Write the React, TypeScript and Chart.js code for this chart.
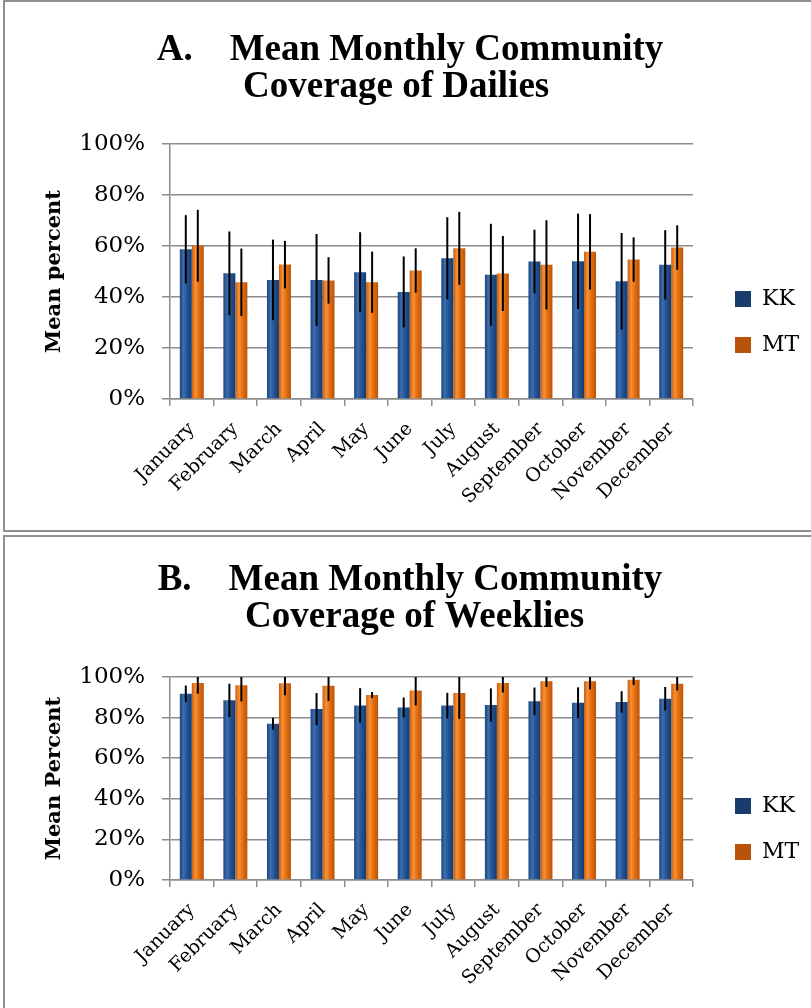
import React, { useEffect, useRef } from 'react';
import { Chart, registerables } from 'chart.js';

Chart.register(...registerables);

// ---------- data ----------
const months = [
  'January', 'February', 'March', 'April', 'May', 'June',
  'July', 'August', 'September', 'October', 'November', 'December',
];
const seriesNames = ['KK', 'MT'];
const yTickLabels = ['0%', '20%', '40%', '60%', '80%', '100%'];

const titleA = ['A.    Mean Monthly Community', 'Coverage of Dailies   '];
const titleB = ['B.    Mean Monthly Community', ' Coverage of Weeklies'];
const yTitleA = 'Mean percent';
const yTitleB = 'Mean Percent';

const dailiesKK = [58.7, 49.3, 46.7, 46.7, 49.7, 42.0, 55.2, 48.7, 53.9, 54.0, 46.2, 52.6];
const dailiesKKErr = [13.4, 16.4, 15.8, 18.0, 15.7, 13.9, 16.1, 20.0, 12.5, 18.7, 18.9, 13.6];
const dailiesMT = [60.1, 45.8, 52.7, 46.5, 45.8, 50.4, 59.1, 49.2, 52.6, 57.7, 54.7, 59.4];
const dailiesMTErr = [14.1, 13.2, 9.3, 9.1, 12.0, 8.7, 14.3, 14.7, 17.5, 14.8, 8.7, 8.7];

const weekliesKK = [91.8, 88.5, 77.0, 84.2, 86.0, 85.0, 85.9, 86.2, 88.0, 87.3, 87.7, 89.3];
const weekliesKKErr = [4.0, 8.2, 2.9, 7.9, 8.5, 4.9, 6.3, 8.2, 6.8, 7.6, 5.3, 5.8];
const weekliesMT = [97.0, 95.9, 96.9, 95.7, 91.1, 93.3, 92.1, 97.0, 97.9, 97.9, 98.7, 96.7];
const weekliesMTErr = [5.2, 7.9, 5.9, 7.5, 1.5, 7.3, 12.7, 4.6, 2.8, 4.0, 2.7, 3.3];

// ---------- styles / layout ----------
const WIDTH = 810;
const PLOT_LEFT = 165;
const PLOT_RIGHT = 688;
const CAT_PCT = 0.55;
const GRID = '#8c8c8c';
const BLUE = ['#1b4277', '#3c6eb0', '#245293', '#183c6c'];
const ORANGE = ['#c95c0a', '#f7913a', '#e66e0c', '#b9530a'];
const TITLE_SIZE = 37;

type Panel = {
  title: string[];
  yTitle: string;
  kk: number[];
  mt: number[];
  kkErr: number[];
  mtErr: number[];
  height: number;
  plotTop: number;
  plotBottom: number;
  titlePadTop: number;
  legendTop: number;
};

const panelA: Panel = {
  title: titleA, yTitle: yTitleA,
  kk: dailiesKK, mt: dailiesMT, kkErr: dailiesKKErr, mtErr: dailiesMTErr,
  height: 526, plotTop: 141, plotBottom: 396, titlePadTop: 29, legendTop: 261,
};
const panelB: Panel = {
  title: titleB, yTitle: yTitleB,
  kk: weekliesKK, mt: weekliesMT, kkErr: weekliesKKErr, mtErr: weekliesMTErr,
  height: 470, plotTop: 139, plotBottom: 342, titlePadTop: 24, legendTop: 233,
};

function makeErrorBars(errors: number[][]) {
  return {
    id: 'errorBars',
    afterDatasetsDraw(chart: any) {
      const { ctx, chartArea } = chart;
      const y = chart.scales.y;
      ctx.save();
      ctx.beginPath();
      ctx.rect(chartArea.left, chartArea.top, chartArea.right - chartArea.left, chartArea.bottom - chartArea.top);
      ctx.clip();
      ctx.strokeStyle = '#000';
      ctx.lineWidth = 2;
      chart.data.datasets.forEach((ds: any, i: number) => {
        const meta = chart.getDatasetMeta(i);
        meta.data.forEach((bar: any, j: number) => {
          const v = ds.data[j];
          const e = errors[i][j];
          ctx.beginPath();
          ctx.moveTo(bar.x, y.getPixelForValue(v + e));
          ctx.lineTo(bar.x, y.getPixelForValue(v - e));
          ctx.stroke();
        });
      });
      ctx.restore();
    },
  };
}

function makeLegendPlacer(x: number, y: number) {
  return {
    id: 'legendPlacer',
    afterLayout(chart: any) {
      const lg = chart.legend;
      if (!lg) return;
      lg.left = x;
      lg.right = x + 100;
      lg.width = 100;
      lg.top = y;
      lg.bottom = y + 160;
      lg.height = 160;
    },
  };
}

function barFill(colors: string[], dsIndex: number) {
  return (c: any) => {
    if (c.type !== 'data') return colors[2];
    const xs = c.chart.scales && c.chart.scales.x;
    if (!xs) return colors[2];
    const center = xs.getPixelForValue(c.dataIndex);
    const bw = ((xs.right - xs.left) / months.length) * CAT_PCT / 2;
    if (!Number.isFinite(center) || !Number.isFinite(bw) || bw <= 0) return colors[2];
    const left = dsIndex === 0 ? center - bw : center;
    const g = c.chart.ctx.createLinearGradient(left, 0, left + bw, 0);
    g.addColorStop(0, colors[0]);
    g.addColorStop(0.3, colors[1]);
    g.addColorStop(0.6, colors[2]);
    g.addColorStop(1, colors[3]);
    return g;
  };
}

function build(canvas: HTMLCanvasElement, p: Panel) {
  return new Chart(canvas, {
    type: 'bar',
    data: {
      labels: months,
      datasets: [
        {
          label: seriesNames[0], data: p.kk, backgroundColor: barFill(BLUE, 0) as any,
          xAxisID: 'x', yAxisID: 'y', barPercentage: 1, categoryPercentage: CAT_PCT, borderWidth: 0,
        },
        {
          label: seriesNames[1], data: p.mt, backgroundColor: barFill(ORANGE, 1) as any,
          xAxisID: 'x', yAxisID: 'y', barPercentage: 1, categoryPercentage: CAT_PCT, borderWidth: 0,
        },
      ],
    },
    options: {
      responsive: false,
      animation: false,
      devicePixelRatio: 1,
      layout: { padding: 0 },
      plugins: {
        title: {
          display: true,
          text: p.title,
          color: '#000',
          font: { family: 'Liberation Serif', weight: 'bold', size: TITLE_SIZE, lineHeight: 1 },
          padding: { top: p.titlePadTop, bottom: p.plotTop - p.titlePadTop - TITLE_SIZE * p.title.length },
        },
        legend: {
          display: true,
          position: 'right',
          align: 'start',
          labels: {
            boxWidth: 16, boxHeight: 16, padding: 24, color: '#000',
            font: { family: 'DejaVu Serif', size: 22 },
          },
        },
        tooltip: { enabled: false },
      },
      scales: {
        x: {
          type: 'category',
          grid: { display: true, drawOnChartArea: false, drawTicks: true, tickLength: 7, color: GRID, lineWidth: 1.5, offset: true },
          border: { display: true, color: GRID, width: 1.5 },
          ticks: {
            autoSkip: false, minRotation: 45, maxRotation: 45, padding: 12, color: '#000',
            font: { family: 'DejaVu Serif', size: 19 },
          },
          afterFit: (s: any) => { s.height = p.height - p.plotBottom; },
        },
        y: {
          type: 'linear', position: 'left', min: 0, max: 100,
          ticks: {
            stepSize: 20, padding: 17, color: '#000',
            font: { family: 'DejaVu Serif', size: 23 },
            callback: (_v: any, i: number) => yTickLabels[i],
          },
          grid: { color: GRID, lineWidth: 1.5, tickLength: 8 },
          border: { display: true, color: GRID, width: 1.5 },
          title: {
            display: true, text: p.yTitle, color: '#000',
            font: { family: 'DejaVu Serif', weight: 'bold', size: 21 },
            padding: { top: 37, bottom: 0 },
          },
          afterFit: (s: any) => { s.width = PLOT_LEFT; },
        },
        y2: {
          type: 'linear', position: 'right', display: true,
          grid: { display: false, drawTicks: false },
          ticks: { display: false },
          border: { display: false },
          afterFit: (s: any) => {
            const lw = s.chart.legend ? s.chart.legend.width : 0;
            s.width = Math.max(0, WIDTH - PLOT_RIGHT - lw);
          },
        },
      },
    } as any,
    plugins: [makeErrorBars([p.kkErr, p.mtErr]), makeLegendPlacer(706, p.legendTop)],
  });
}

export default function App() {
  const refA = useRef<HTMLCanvasElement | null>(null);
  const refB = useRef<HTMLCanvasElement | null>(null);

  useEffect(() => {
    const a = build(refA.current as HTMLCanvasElement, panelA);
    const b = build(refB.current as HTMLCanvasElement, panelB);
    return () => {
      a.destroy();
      b.destroy();
    };
  }, []);

  return (
    <div style={{ position: 'absolute', left: 0, top: 0, width: 811, height: 1008, overflow: 'hidden', background: '#fff' }}>
      <div style={{ position: 'absolute', left: 3, top: 0, width: 900, height: 532, border: '2px solid #8f8f8f', boxSizing: 'border-box' }} />
      <div style={{ position: 'absolute', left: 3, top: 535, width: 900, height: 600, border: '2px solid #8f8f8f', boxSizing: 'border-box' }} />
      <canvas ref={refA} width={WIDTH} height={panelA.height}
        style={{ position: 'absolute', left: 5, top: 3, width: WIDTH, height: panelA.height }} />
      <canvas ref={refB} width={WIDTH} height={panelB.height}
        style={{ position: 'absolute', left: 5, top: 538, width: WIDTH, height: panelB.height }} />
    </div>
  );
}
